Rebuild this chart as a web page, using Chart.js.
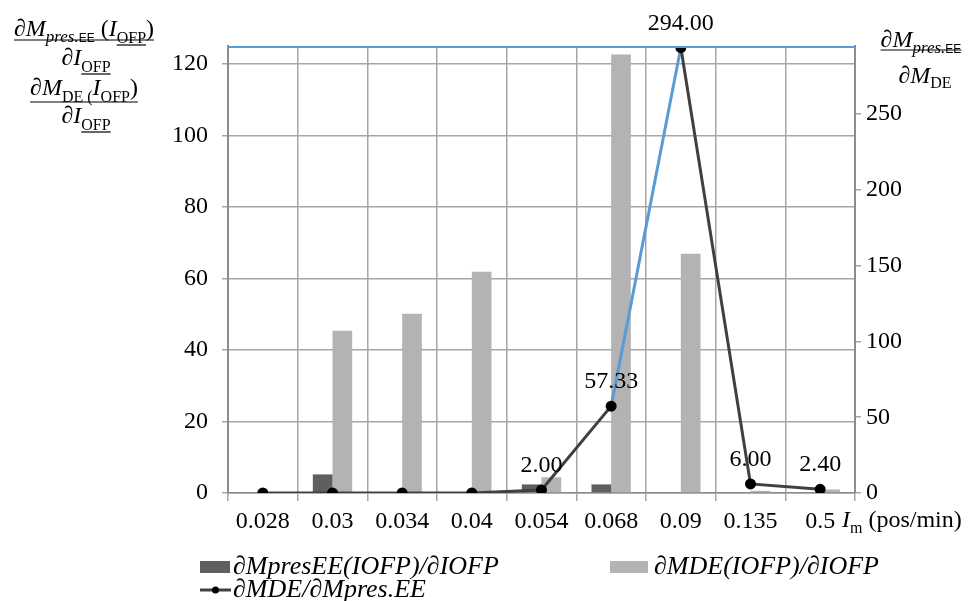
<!DOCTYPE html>
<html>
<head>
<meta charset="utf-8">
<script src="https://cdn.jsdelivr.net/npm/chart.js@4"></script>
<style>
  html, body { margin: 0; padding: 0; background: #fff; }
  #wrap { width: 973px; height: 601px; }
</style>
</head>
<body>
<div id="wrap"><canvas id="chart" width="973" height="601"></canvas></div>
<script>
// categories (I_m, pos/min)
const categories = ['0.028', '0.03', '0.034', '0.04', '0.054', '0.068', '0.09', '0.135', '0.5'];
// bar series, left axis
const presEE = [0, 5.2, 0, 0, 2.4, 2.4, 0, 0, 0];
const mDE = [0, 45.4, 50.1, 61.9, 4.4, 122.6, 66.9, 0.6, 1.0];
// line series, right axis
const ratio = [0, 0, 0, 0, 2.00, 57.33, 294.00, 6.00, 2.40];
// tick labels
const leftTicks = [0, 20, 40, 60, 80, 100, 120];
const rightTicks = [0, 50, 100, 150, 200, 250];

const serif = '"Liberation Serif", "Times New Roman", serif';
const sans = '"Liberation Sans", Arial, sans-serif';
const gridColor = '#a6a6a6';
const axisColor = '#8c8c8c';
const blue = '#5b9bd5';

// draw a run of text pieces; returns [x0, x1]
function drawRich(ctx, parts, x, y, align) {
  let w = 0;
  parts.forEach(p => { ctx.font = p.f; p.w = ctx.measureText(p.t).width; w += p.w; });
  let cx = align === 'center' ? x - w / 2 : x;
  const x0 = cx;
  ctx.textAlign = 'left';
  ctx.textBaseline = 'alphabetic';
  parts.forEach(p => {
    ctx.font = p.f;
    ctx.fillText(p.t, cx, y + (p.dy || 0));
    if (p.u) {
      ctx.beginPath();
      ctx.moveTo(cx, y + p.u);
      ctx.lineTo(cx + p.w, y + p.u);
      ctx.stroke();
    }
    cx += p.w;
  });
  return [x0, cx];
}

function bar(ctx, x0, x1, y) {
  ctx.beginPath();
  ctx.moveTo(x0, y);
  ctx.lineTo(x1, y);
  ctx.stroke();
}

const decorations = {
  id: 'decorations',
  afterDatasetsDraw(chart) {
    const ctx = chart.ctx;
    const a = chart.chartArea;
    ctx.save();
    // top border line
    ctx.strokeStyle = blue;
    ctx.lineWidth = 2;
    bar(ctx, a.left, a.right, a.top + 1);

    // value labels on the line
    const meta = chart.getDatasetMeta(2);
    ctx.fillStyle = '#000';
    ctx.font = '24px ' + serif;
    ctx.textAlign = 'center';
    ctx.textBaseline = 'alphabetic';
    meta.data.forEach((pt, i) => {
      if (ratio[i] > 0) ctx.fillText(ratio[i].toFixed(2), pt.x, pt.y - 18);
    });
    ctx.restore();
  },
  afterDraw(chart) {
    const ctx = chart.ctx;
    const a = chart.chartArea;
    ctx.save();
    ctx.fillStyle = '#000';
    ctx.strokeStyle = '#000';
    ctx.lineWidth = 1.2;
    const it = 'italic 24px ' + serif;
    const rg = '24px ' + serif;
    const sub = '16px ' + serif;
    const subIt = 'italic 17px ' + serif;
    const ee = '12px ' + sans;

    // left axis title
    let r = drawRich(ctx, [
      { t: '∂M', f: it },
      { t: 'pres.', f: subIt, dy: 6 },
      { t: 'EE', f: ee, dy: 6 },
      { t: ' (', f: rg },
      { t: 'I', f: it },
      { t: 'OFP', f: sub, dy: 7, u: 9 },
      { t: ')', f: rg }
    ], 84, 36, 'center');
    bar(ctx, r[0], r[1], 40);
    drawRich(ctx, [
      { t: '∂I', f: it },
      { t: 'OFP', f: sub, dy: 7, u: 9 }
    ], 86, 65, 'center');
    r = drawRich(ctx, [
      { t: '∂M', f: it },
      { t: 'DE (', f: sub, dy: 7 },
      { t: 'I', f: it },
      { t: 'OFP', f: sub, dy: 7 },
      { t: ')', f: rg }
    ], 84, 95, 'center');
    bar(ctx, r[0], r[1], 102);
    drawRich(ctx, [
      { t: '∂I', f: it },
      { t: 'OFP', f: sub, dy: 7, u: 9 }
    ], 86, 123, 'center');

    // right axis title
    r = drawRich(ctx, [
      { t: '∂M', f: it },
      { t: 'pres.', f: subIt, dy: 6 },
      { t: 'EE', f: ee, dy: 6 }
    ], 921, 47, 'center');
    bar(ctx, r[0], r[1], 50);
    drawRich(ctx, [
      { t: '∂M', f: it },
      { t: 'DE', f: sub, dy: 5 }
    ], 925, 83, 'center');

    // x axis title
    drawRich(ctx, [
      { t: 'I', f: it },
      { t: 'm', f: sub, dy: 6 },
      { t: ' (pos/min)', f: rg }
    ], a.right - 13, 527, 'left');

    // legend
    const lf = 'italic 26px ' + serif;
    ctx.font = lf;
    ctx.textAlign = 'left';
    ctx.textBaseline = 'middle';
    const ds = chart.data.datasets;
    ctx.fillStyle = ds[0].backgroundColor;
    ctx.fillRect(200, 561, 30, 12);
    ctx.fillStyle = '#000';
    ctx.fillText(ds[0].label, 233, 567);
    ctx.fillStyle = ds[1].backgroundColor;
    ctx.fillRect(610, 561, 38, 12);
    ctx.fillStyle = '#000';
    ctx.fillText(ds[1].label, 654, 567);
    ctx.strokeStyle = ds[2].borderColor;
    ctx.lineWidth = 3;
    bar(ctx, 200, 231, 590);
    ctx.beginPath();
    ctx.arc(215.5, 590, 3.5, 0, Math.PI * 2);
    ctx.fillStyle = '#000';
    ctx.fill();
    ctx.fillText(ds[2].label, 233, 590);
    ctx.restore();
  }
};

new Chart(document.getElementById('chart'), {
  data: {
    labels: categories,
    datasets: [
      {
        type: 'bar',
        label: '∂MpresEE(IOFP)/∂IOFP',
        data: presEE,
        backgroundColor: '#5f5f5f',
        yAxisID: 'y',
        order: 1,
        categoryPercentage: 0.565,
        barPercentage: 1.0
      },
      {
        type: 'bar',
        label: '∂MDE(IOFP)/∂IOFP',
        data: mDE,
        backgroundColor: '#b3b3b3',
        yAxisID: 'y',
        order: 1,
        categoryPercentage: 0.565,
        barPercentage: 1.0
      },
      {
        type: 'line',
        label: '∂MDE/∂Mpres.EE',
        data: ratio,
        yAxisID: 'y1',
        order: 0,
        borderColor: '#404040',
        borderWidth: 3,
        pointRadius: 4,
        pointBackgroundColor: '#000',
        pointBorderColor: '#000',
        tension: 0,
        segment: {
          borderColor: c => c.p0DataIndex === 5 ? blue : '#404040'
        }
      }
    ]
  },
  options: {
    responsive: false,
    animation: false,
    layout: { padding: { top: 46, left: 0, right: 0, bottom: 0 } },
    plugins: {
      legend: { display: false },
      tooltip: { enabled: false }
    },
    scales: {
      x: {
        grid: { offset: true, color: gridColor, lineWidth: 1.5, tickLength: 8 },
        border: { color: axisColor, width: 1.5 },
        ticks: { color: '#000', font: { family: serif, size: 24 }, padding: 6, maxRotation: 0 },
        afterFit: s => { s.height = 108; }
      },
      y: {
        position: 'left',
        min: 0,
        max: 125,
        afterBuildTicks: s => { s.ticks = leftTicks.map(v => ({ value: v })); },
        grid: { color: gridColor, lineWidth: 1.5, tickLength: 6 },
        border: { color: axisColor, width: 2 },
        ticks: { color: '#000', font: { family: serif, size: 24 }, padding: 14 },
        afterFit: s => { s.width = 228; }
      },
      y1: {
        position: 'right',
        min: 0,
        max: 295,
        afterBuildTicks: s => { s.ticks = rightTicks.map(v => ({ value: v })); },
        grid: { drawOnChartArea: false, color: gridColor, lineWidth: 1.5, tickLength: 6 },
        border: { color: axisColor, width: 2 },
        ticks: { color: '#000', font: { family: serif, size: 24 }, padding: 5 },
        afterFit: s => { s.width = 118; }
      }
    }
  },
  plugins: [decorations]
});
</script>
</body>
</html>
